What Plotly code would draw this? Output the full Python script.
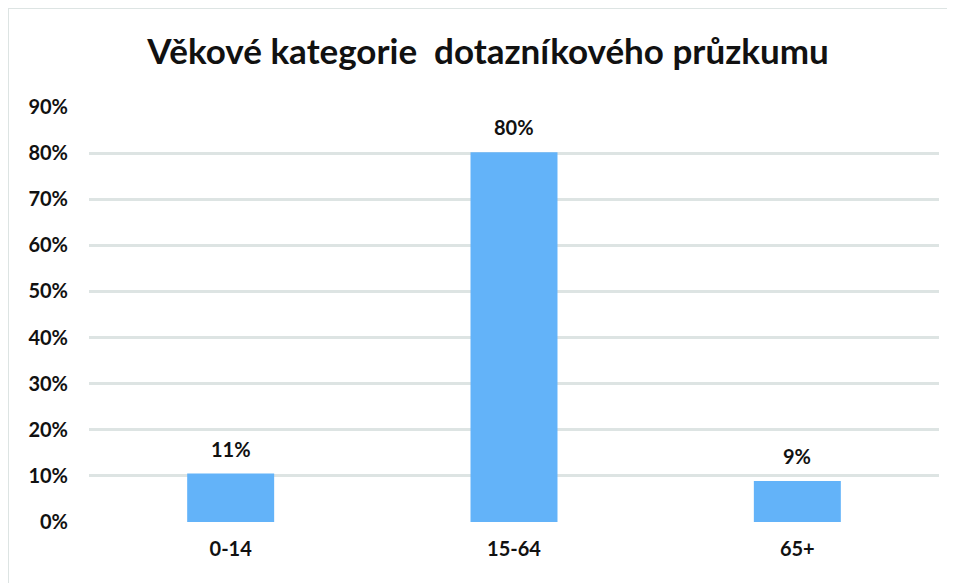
import plotly.graph_objects as go

categories = ["0-14", "15-64", "65+"]
values = [0.105, 0.802, 0.089]
labels = ["11%", "80%", "9%"]
tick_vals = [0, 0.1, 0.2, 0.3, 0.4, 0.5, 0.6, 0.7, 0.8, 0.9]
tick_text = ["0%", "10%", "20%", "30%", "40%", "50%", "60%", "70%", "80%", "90%"]
title = "Věkové kategorie  dotazníkového průzkumu"

FONT = "Lato, 'Open Sans', sans-serif"
OFF = 8  # page body margin offset

fig = go.Figure()
fig.add_trace(go.Bar(
    x=categories, y=values,
    marker=dict(color="#63b3f9", line=dict(width=0)),
    width=0.307,
    hoverinfo="skip",
))

for c, v, t in zip(categories, values, labels):
    fig.add_annotation(x=c, y=v, text=f"<b>{t}</b>", showarrow=False,
                       yshift=25, font=dict(family=FONT, size=20, color="#111111"))

L, R, T, B = 89 - OFF, 939 - OFF, 107 - OFF, 522 - OFF
pw, ph = R - L, B - T

fig.update_layout(
    width=955, height=583,
    margin=dict(l=L, r=955 - R, t=T, b=583 - B),
    paper_bgcolor="white", plot_bgcolor="white",
    showlegend=False,
    title=dict(text=f"<b>{title}</b>", x=(488 - OFF) / 955, xanchor="center",
               y=1 - (52 - OFF) / 583, yanchor="middle",
               font=dict(family=FONT, size=35, color="#111111")),
    xaxis=dict(showgrid=False, showline=False, zeroline=False, ticks="",
               tickfont=dict(family=FONT, size=20, color="#111111"),
               ticklabelstandoff=13, tickprefix="<b>", ticksuffix="</b>"),
    yaxis=dict(range=[0, 0.9], tickvals=tick_vals,
               ticktext=[f"<b>{t}</b>" for t in tick_text],
               showgrid=True, gridcolor="#dde4e3", gridwidth=2.5,
               zeroline=False, showline=False, ticks="",
               tickfont=dict(family=FONT, size=20, color="#111111"),
               ticklabelstandoff=20),
    shapes=[dict(type="rect", xref="paper", yref="paper",
                 x0=(0 - L) / pw, x1=(980 - L) / pw,
                 y0=(B - 600) / ph, y1=(B - 0) / ph,
                 line=dict(color="#dde4e3", width=2), layer="below")],
)

fig.write_html("out.html")
